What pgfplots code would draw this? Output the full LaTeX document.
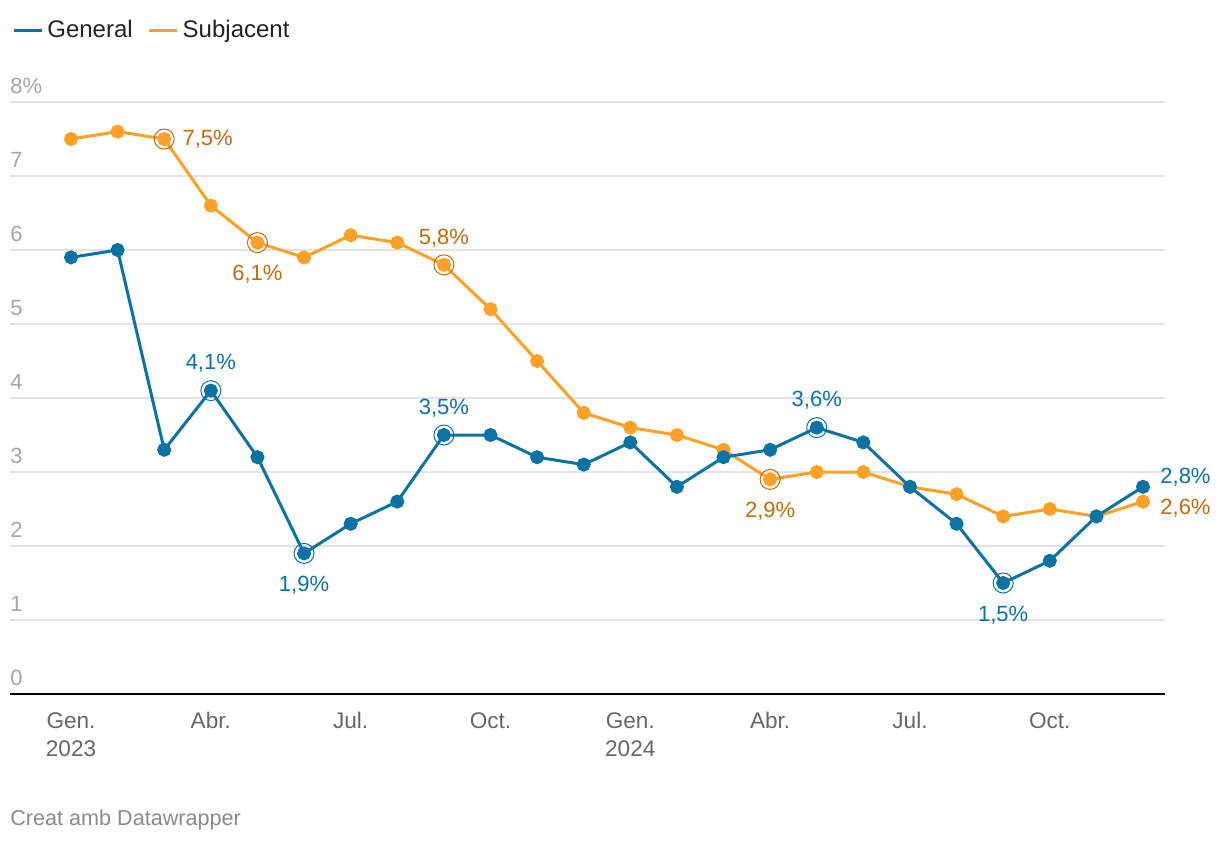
\documentclass[border=0pt]{standalone}
\usepackage{fontspec}
\setmainfont{Liberation Sans}
\usepackage{pgfplots}
\pgfplotsset{compat=1.18}
\definecolor{cblue}{HTML}{0B72A5}
\definecolor{corange}{HTML}{FFA126}
\definecolor{corangetxt}{HTML}{C06A0E}
\definecolor{cgrid}{HTML}{E3E3E3}
\definecolor{cytick}{HTML}{A6A6A6}
\definecolor{cxtick}{HTML}{666666}
\definecolor{cfoot}{HTML}{8A8A8A}
\definecolor{clegend}{HTML}{222222}
\begin{document}
\begin{tikzpicture}
\useasboundingbox (-5pt,-74pt) rectangle (605pt,347pt);
\begin{axis}[
  at={(0pt,0pt)}, anchor=south west,
  scale only axis, width=577.5pt, height=296pt,
  xmin=-1.309, xmax=23.472, ymin=0, ymax=8,
  axis x line*=bottom, axis y line*=left,
  y axis line style={draw=none},
  x axis line style={line width=1pt, black},
  major tick length=0pt,
  ymajorgrids, grid style={cgrid, line width=1pt},
  ytick={0,1,2,3,4,5,6,7,8},
  yticklabels={0,1,2,3,4,5,6,7,8\%},
  yticklabel style={anchor=base west, inner sep=0pt, yshift=4.5pt, text=cytick, font=\fontsize{11}{13}\selectfont},
  xtick={0,3,6,9,12,15,18,21},
  xticklabels={{Gen.\\2023},Abr.,Jul.,Oct.,{Gen.\\2024},Abr.,Jul.,Oct.},
  xticklabel style={align=center, text=cxtick, font=\fontsize{11.3}{14}\selectfont, anchor=north, inner sep=0pt, yshift=-9pt},
  clip=false,
  legend columns=2,
  legend style={at={(0.0017,1.1216)}, anchor=west, draw=none, fill=none, inner sep=0pt,
    font=\fontsize{12}{14}\selectfont, text=clegend,
    /tikz/every even column/.append style={column sep=5.5pt}},
  legend cell align=left,
  legend image code/.code={\draw[line width=1.5pt] (0pt,0pt) -- (14pt,0pt);},
]
% Subjacent (drawn first, below)
\addplot[corange, line width=1.5pt, mark=*, mark size=2.75pt, mark options={solid, fill=corange, draw=none}, forget plot] coordinates {
(0,7.5)(1,7.6)(2,7.5)(3,6.6)(4,6.1)(5,5.9)(6,6.2)(7,6.1)(8,5.8)(9,5.2)(10,4.5)(11,3.8)
(12,3.6)(13,3.5)(14,3.3)(15,2.9)(16,3.0)(17,3.0)(18,2.8)(19,2.7)(20,2.4)(21,2.5)(22,2.4)(23,2.6)};
% General
\addplot[cblue, line width=1.5pt, mark=*, mark size=2.75pt, mark options={solid, fill=cblue, draw=none}] coordinates {
(0,5.9)(1,6.0)(2,3.3)(3,4.1)(4,3.2)(5,1.9)(6,2.3)(7,2.6)(8,3.5)(9,3.5)(10,3.2)(11,3.1)
(12,3.4)(13,2.8)(14,3.2)(15,3.3)(16,3.6)(17,3.4)(18,2.8)(19,2.3)(20,1.5)(21,1.8)(22,2.4)(23,2.8)};
\addlegendentry{General}
\addlegendimage{corange, line width=1.5pt}
\addlegendentry{Subjacent}
% highlight rings
\addplot[only marks, mark=o, mark size=5pt, mark options={draw=corangetxt, line width=0.5pt}, forget plot] coordinates {(2,7.5)(4,6.1)(8,5.8)(15,2.9)};
\addplot[only marks, mark=o, mark size=5pt, mark options={draw=cblue, line width=0.5pt}, forget plot] coordinates {(3,4.1)(5,1.9)(8,3.5)(16,3.6)(20,1.5)};
% labels above
\addplot[draw=none, mark=none, forget plot, nodes near coords, point meta=explicit symbolic,
  every node near coord/.append style={anchor=center, yshift=13.5pt, inner sep=0pt, font=\fontsize{11}{13}\selectfont, text=corangetxt}]
  coordinates {(8,5.8) [5,8\%]};
\addplot[draw=none, mark=none, forget plot, nodes near coords, point meta=explicit symbolic,
  every node near coord/.append style={anchor=center, yshift=13.5pt, inner sep=0pt, font=\fontsize{11}{13}\selectfont, text=cblue}]
  coordinates {(3,4.1) [4,1\%] (8,3.5) [3,5\%] (16,3.6) [3,6\%]};
% labels below
\addplot[draw=none, mark=none, forget plot, nodes near coords, point meta=explicit symbolic,
  every node near coord/.append style={anchor=center, yshift=-16pt, inner sep=0pt, font=\fontsize{11}{13}\selectfont, text=corangetxt}]
  coordinates {(4,6.1) [6,1\%] (15,2.9) [2,9\%]};
\addplot[draw=none, mark=none, forget plot, nodes near coords, point meta=explicit symbolic,
  every node near coord/.append style={anchor=center, yshift=-16pt, inner sep=0pt, font=\fontsize{11}{13}\selectfont, text=cblue}]
  coordinates {(5,1.9) [1,9\%] (20,1.5) [1,5\%]};
% labels right
\addplot[draw=none, mark=none, forget plot, nodes near coords, point meta=explicit symbolic,
  every node near coord/.append style={anchor=west, xshift=9pt, yshift=0pt, inner sep=0pt, font=\fontsize{11}{13}\selectfont, text=corangetxt}]
  coordinates {(2,7.5) [7,5\%]};
\addplot[draw=none, mark=none, forget plot, nodes near coords, point meta=explicit symbolic,
  every node near coord/.append style={anchor=west, xshift=8.5pt, yshift=5pt, inner sep=0pt, font=\fontsize{11}{13}\selectfont, text=cblue}]
  coordinates {(23,2.8) [2,8\%]};
\addplot[draw=none, mark=none, forget plot, nodes near coords, point meta=explicit symbolic,
  every node near coord/.append style={anchor=west, xshift=8.5pt, yshift=-3.5pt, inner sep=0pt, font=\fontsize{11}{13}\selectfont, text=corangetxt}]
  coordinates {(23,2.6) [2,6\%]};
\end{axis}
\node[anchor=base west, inner sep=0pt, text=cfoot, font=\fontsize{10.8}{12}\selectfont] at (0pt,-65.5pt) {Creat amb Datawrapper};
\end{tikzpicture}
\end{document}
